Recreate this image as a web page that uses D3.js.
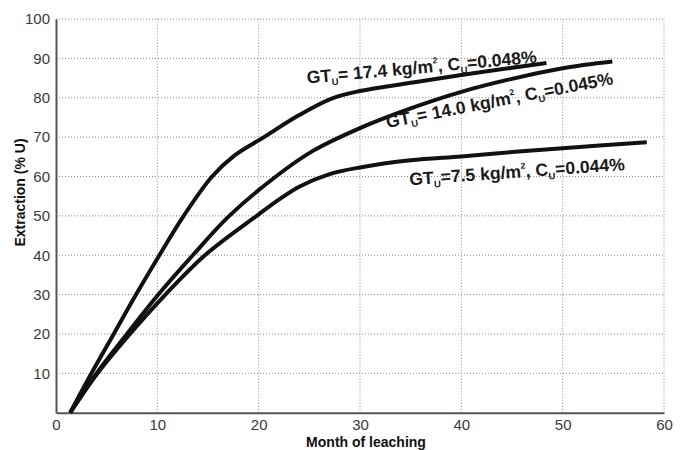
<!DOCTYPE html>
<html><head><meta charset="utf-8">
<script src="https://cdn.jsdelivr.net/npm/d3@7"></script>
<style>body{margin:0;background:#fff}svg{display:block}</style>
</head><body>
<svg id="c" width="686" height="450"></svg>
<script>
// ---- data ----
const xTicks = [0, 10, 20, 30, 40, 50, 60];
const yTicks = [10, 20, 30, 40, 50, 60, 70, 80, 90, 100];
const seriesNames = ["17.4", "14.0", "7.5"];
const months174 = [1.4, 3.5, 5.7, 7.9, 10.2, 12.6, 15.4, 17.6, 20.4, 24, 27.2, 30, 35, 40, 45, 48.4];
const extr174   = [0, 10, 20, 30, 40, 50, 60, 65.3, 69.8, 75.6, 79.8, 81.7, 83.8, 85.8, 87.6, 88.8];
const months140 = [1.4, 4.0, 7.0, 10.1, 13.5, 17.1, 21.7, 25.35, 30, 35, 40, 45, 50, 54.9];
const extr140   = [0, 10, 20, 30, 40, 50, 60, 66.5, 72.3, 77.3, 81.5, 84.8, 87.5, 89.2];
const months75  = [1.4, 4.1, 7.3, 10.8, 14.7, 19.8, 22.1, 24, 27, 30, 35, 40, 45, 50, 58.3];
const extr75    = [0, 10, 20, 30, 40, 50, 54.3, 57.4, 60.6, 62.3, 64.1, 65.1, 66.2, 67.2, 68.7];
const labelParts = [
  [["GT",""],["U","sub"],["= 17.4 kg/m",""],["2","sup"],[", C",""],["U","sub"],["=0.048%",""]],
  [["GT",""],["U","sub"],["= 14.0 kg/m",""],["2","sup"],[", C",""],["U","sub"],["=0.045%",""]],
  [["GT",""],["U","sub"],["=7.5 kg/m",""],["2","sup"],[", C",""],["U","sub"],["=0.044%",""]]
];
const xTitle = "Month of leaching";
const yTitle = "Extraction (% U)";

// ---- layout ----
const labelAnchor = [{m: 24.8, v: 83.6, a: -5.2}, {m: 32.7, v: 72.3, a: -11}, {m: 34.9, v: 57.8, a: -4}];

const svg = d3.select("#c");
const x = d3.scaleLinear().domain([0, 60]).range([56, 664]);
const y = d3.scaleLinear().domain([0, 100]).range([412.7, 19]);

// grid
const grid = svg.append("g").attr("stroke", "#8a8a8a").attr("stroke-width", 1).attr("stroke-dasharray", "1,2");
grid.selectAll(".gx").data(xTicks.filter(d => d > 0)).join("line")
  .attr("x1", d => x(d)).attr("x2", d => x(d)).attr("y1", y(0)).attr("y2", y(100));
grid.selectAll(".gy").data(yTicks).join("line")
  .attr("x1", x(0)).attr("x2", x(60)).attr("y1", d => y(d)).attr("y2", d => y(d));

// axes
const xAxis = svg.append("g").attr("transform", `translate(0,${y(0)})`)
  .call(d3.axisBottom(x).tickValues(xTicks).tickSize(0).tickPadding(6.5));
const yAxis = svg.append("g").attr("transform", `translate(${x(0)},0)`)
  .call(d3.axisLeft(y).tickValues(yTicks).tickSize(0).tickPadding(6));
[xAxis, yAxis].forEach(a => {
  a.select(".domain").attr("stroke", "#555").attr("stroke-width", 2);
  a.selectAll("text").attr("font-family", "Liberation Sans, Arial, sans-serif")
    .attr("font-size", 15).attr("fill", "#3a3a3a");
});
xAxis.selectAll("text").attr("dy", "0.75em");

// curves
const series = [
  {name: seriesNames[0], mo: months174, ex: extr174},
  {name: seriesNames[1], mo: months140, ex: extr140},
  {name: seriesNames[2], mo: months75, ex: extr75}
];
const line = d3.line().x(d => x(d[0])).y(d => y(d[1])).curve(d3.curveCatmullRom.alpha(0.5));
svg.append("g").selectAll("path").data(series).join("path")
  .attr("d", s => line(s.mo.map((m, i) => [m, s.ex[i]])))
  .attr("fill", "none").attr("stroke", "#111").attr("stroke-width", 4)
  .attr("stroke-linecap", "butt").attr("stroke-linejoin", "round");

// curve labels
labelParts.forEach((parts, i) => {
  const an = labelAnchor[i];
  const t = svg.append("text")
    .attr("transform", `translate(${x(an.m)},${y(an.v)}) rotate(${an.a})`)
    .attr("font-family", "Liberation Sans, Arial, sans-serif")
    .attr("font-weight", "bold").attr("font-size", 17.6).attr("fill", "#1a1a1a");
  let prev = "";
  parts.forEach(([txt, kind]) => {
    const ts = t.append("tspan").text(txt);
    let dy = 0;
    if (kind === "sub") { ts.attr("font-size", 9.5); dy = 4; }
    else if (kind === "sup") { ts.attr("font-size", 8.5); dy = -8.5; }
    const back = prev === "sub" ? -4 : prev === "sup" ? 8.5 : 0;
    const total = dy + back;
    if (total !== 0) ts.attr("dy", total);
    prev = kind;
  });
});

// axis titles
svg.append("text").attr("x", 366).attr("y", 447).attr("text-anchor", "middle")
  .attr("font-family", "Liberation Sans, Arial, sans-serif").attr("font-weight", "bold")
  .attr("font-size", 14).attr("fill", "#111").text(xTitle);
svg.append("text").attr("transform", "translate(25,192.5) rotate(-90)").attr("text-anchor", "middle")
  .attr("font-family", "Liberation Sans, Arial, sans-serif").attr("font-weight", "bold")
  .attr("font-size", 14).attr("fill", "#111").text(yTitle);
</script>
</body></html>
